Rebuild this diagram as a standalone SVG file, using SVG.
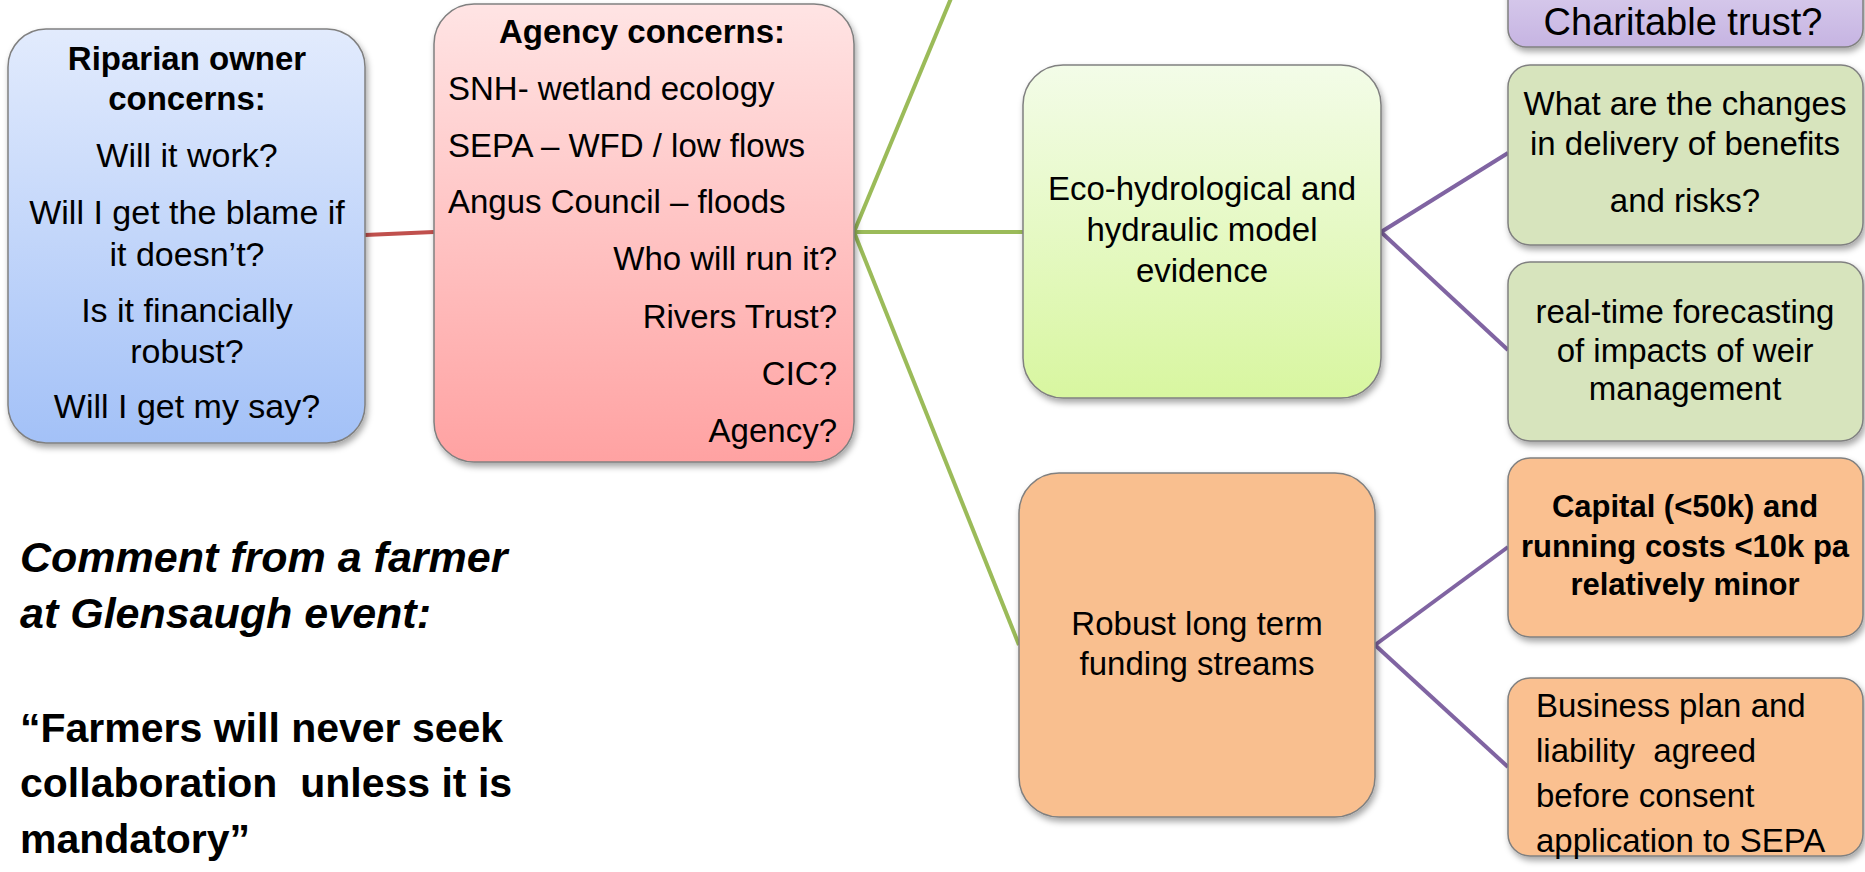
<svg xmlns="http://www.w3.org/2000/svg" width="1865" height="872" viewBox="0 0 1865 872">
<style>
  .t { font-family: "Liberation Sans", Arial, sans-serif; font-size: 33px; fill: #000; }
  .c { text-anchor: middle; }
  .r { text-anchor: end; }
  .b { font-weight: bold; }
  .box { stroke: #808080; stroke-width: 1.5; filter: url(#sh); }
  .green { stroke: #9bbb59; stroke-width: 4; fill: none; }
  .purple { stroke: #8064a2; stroke-width: 4; fill: none; }
  .red { stroke: #c0504d; stroke-width: 4; fill: none; }
  .q { font-family: "Liberation Sans", Arial, sans-serif; font-size: 41px; font-weight: bold; fill: #000; white-space: pre; }
</style>
<defs>
  <filter id="sh" x="-10%" y="-10%" width="120%" height="125%">
    <feDropShadow dx="2" dy="4" stdDeviation="3" flood-color="#000" flood-opacity="0.35"/>
  </filter>
  <linearGradient id="gBlue" x1="0" y1="0" x2="0" y2="1">
    <stop offset="0" stop-color="#e2ebfd"/>
    <stop offset="1" stop-color="#a3c1f7"/>
  </linearGradient>
  <linearGradient id="gRed" x1="0" y1="0" x2="0" y2="1">
    <stop offset="0" stop-color="#ffe4e4"/>
    <stop offset="1" stop-color="#ffa2a2"/>
  </linearGradient>
  <linearGradient id="gEco" x1="0" y1="0" x2="0" y2="1">
    <stop offset="0" stop-color="#f3fce8"/>
    <stop offset="1" stop-color="#d8f6a0"/>
  </linearGradient>
  <linearGradient id="gPurple" x1="0" y1="0" x2="0" y2="1">
    <stop offset="0" stop-color="#ddd2ef"/>
    <stop offset="1" stop-color="#c6b4e2"/>
  </linearGradient>
</defs>

<g id="connectors">
  <line class="red" x1="365" y1="235" x2="434" y2="232"/>
  <line class="green" x1="854" y1="232" x2="952" y2="-4"/>
  <line class="green" x1="854" y1="232" x2="1023" y2="232"/>
  <line class="green" x1="854" y1="232" x2="1019" y2="645"/>
  <line class="purple" x1="1381" y1="232" x2="1508" y2="153"/>
  <line class="purple" x1="1381" y1="232" x2="1508" y2="350"/>
  <line class="purple" x1="1375" y1="645" x2="1508" y2="547"/>
  <line class="purple" x1="1375" y1="645" x2="1508" y2="767"/>
</g>

<g id="riparian">
  <rect class="box" x="8" y="29" width="357" height="414" rx="38" fill="url(#gBlue)"/>
  <text class="t c b" x="187" y="70">Riparian owner</text>
  <text class="t c b" x="187" y="110">concerns:</text>
  <text class="t c" x="187" y="167" style="font-size:34px">Will it work?</text>
  <text class="t c" x="187" y="224" style="font-size:34px">Will I get the blame if</text>
  <text class="t c" x="187" y="266" style="font-size:34px">it doesn’t?</text>
  <text class="t c" x="187" y="322" style="font-size:34px">Is it financially</text>
  <text class="t c" x="187" y="363" style="font-size:34px">robust?</text>
  <text class="t c" x="187" y="418" style="font-size:34px">Will I get my say?</text>
</g>

<g id="agency">
  <rect class="box" x="434" y="4" width="420" height="458" rx="40" fill="url(#gRed)"/>
  <text class="t c b" x="642" y="43">Agency concerns:</text>
  <text class="t" x="448" y="100">SNH- wetland ecology</text>
  <text class="t" x="448" y="157">SEPA – WFD / low flows</text>
  <text class="t" x="448" y="213">Angus Council – floods</text>
  <text class="t r" x="837" y="270">Who will run it?</text>
  <text class="t r" x="837" y="328">Rivers Trust?</text>
  <text class="t r" x="837" y="385">CIC?</text>
  <text class="t r" x="837" y="442">Agency?</text>
</g>

<g id="eco">
  <rect class="box" x="1023" y="65" width="358" height="333" rx="40" fill="url(#gEco)"/>
  <text class="t c" x="1202" y="200">Eco-hydrological and</text>
  <text class="t c" x="1202" y="241">hydraulic model</text>
  <text class="t c" x="1202" y="282">evidence</text>
</g>

<g id="funding">
  <rect class="box" x="1019" y="473" width="356" height="344" rx="40" fill="#f9bf8f"/>
  <text class="t c" x="1197" y="635">Robust long term</text>
  <text class="t c" x="1197" y="675">funding streams</text>
</g>

<g id="charitable">
  <rect class="box" x="1508" y="-30" width="355" height="77" rx="18" fill="url(#gPurple)"/>
  <text class="t c" x="1683" y="35" style="font-size:38px">Charitable trust?</text>
</g>

<g id="changes">
  <rect class="box" x="1508" y="65" width="355" height="180" rx="22" fill="#d7e4bd"/>
  <text class="t c" x="1685" y="115">What are the changes</text>
  <text class="t c" x="1685" y="155">in delivery of benefits</text>
  <text class="t c" x="1685" y="212">and risks?</text>
</g>

<g id="forecasting">
  <rect class="box" x="1508" y="262" width="355" height="179" rx="22" fill="#d7e4bd"/>
  <text class="t c" x="1685" y="323">real-time forecasting</text>
  <text class="t c" x="1685" y="362">of impacts of weir</text>
  <text class="t c" x="1685" y="400">management</text>
</g>

<g id="capital">
  <rect class="box" x="1508" y="458" width="355" height="179" rx="22" fill="#fac090"/>
  <text class="t c b" x="1685" y="517" style="font-size:31px">Capital (&lt;50k) and</text>
  <text class="t c b" x="1685" y="557" style="font-size:31px">running costs &lt;10k pa</text>
  <text class="t c b" x="1685" y="595" style="font-size:31px">relatively minor</text>
</g>

<g id="business">
  <rect class="box" x="1508" y="678" width="355" height="178" rx="22" fill="#fac090"/>
  <text class="t" x="1536" y="717" style="white-space:pre">Business plan and</text>
  <text class="t" x="1536" y="762" style="white-space:pre">liability  agreed</text>
  <text class="t" x="1536" y="807">before consent</text>
  <text class="t" x="1536" y="852">application to SEPA</text>
</g>

<g id="comment">
  <text class="q" x="20" y="572" font-style="italic" style="font-size:43px">Comment from a farmer</text>
  <text class="q" x="20" y="628" font-style="italic" style="font-size:43px">at Glensaugh event:</text>
  <text class="q" x="20" y="742">“Farmers will never seek</text>
  <text class="q" x="20" y="797">collaboration  unless it is</text>
  <text class="q" x="20" y="853">mandatory”</text>
</g>
</svg>
